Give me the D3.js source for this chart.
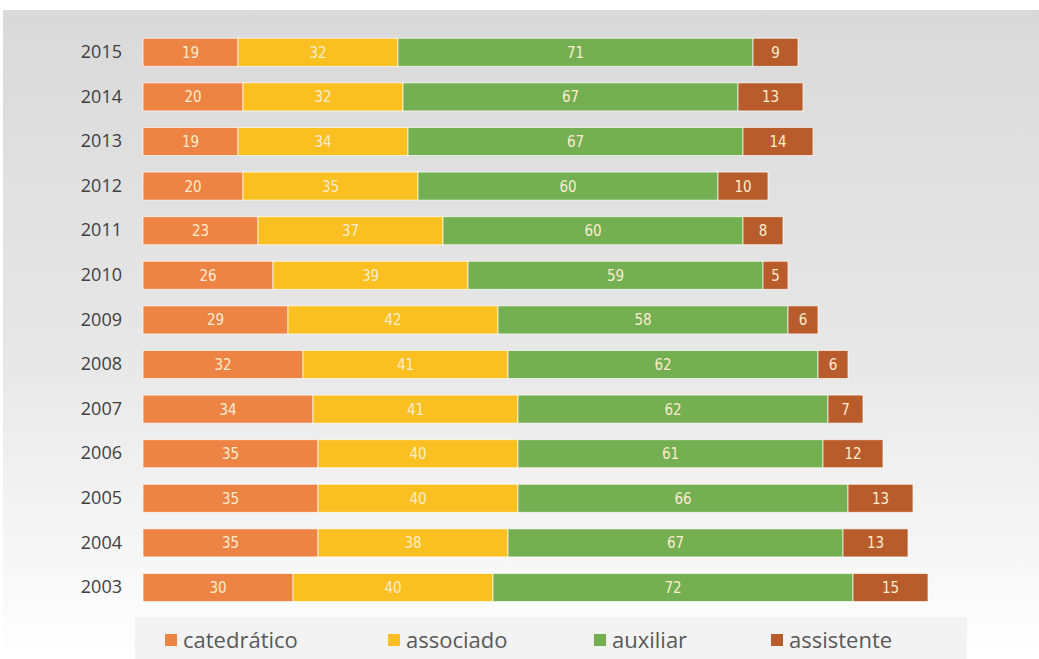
<!DOCTYPE html>
<html>
<head>
<meta charset="utf-8">
<script src="https://cdn.jsdelivr.net/npm/d3@7"></script>
<style>
  body { margin: 0; background: #fff; }
  svg { display: block; }
</style>
</head>
<body>
<div id="chart"></div>
<script>
// data, top row first
var years = ["2015", "2014", "2013", "2012", "2011", "2010", "2009", "2008", "2007", "2006", "2005", "2004", "2003"];
var catedratico = [19, 20, 19, 20, 23, 26, 29, 32, 34, 35, 35, 35, 30];
var associado   = [32, 32, 34, 35, 37, 39, 42, 41, 41, 40, 40, 38, 40];
var auxiliar    = [71, 67, 67, 60, 60, 59, 58, 62, 62, 61, 66, 67, 72];
var assistente  = [9, 13, 14, 10, 8, 5, 6, 6, 7, 12, 13, 13, 15];
var seriesNames = ["catedrático", "associado", "auxiliar", "assistente"];
var colors = ["#EE8444", "#FAC021", "#74B052", "#B95C2B"];

var svgWidth = 1039, svgHeight = 659;

var svg = d3.select("#chart").append("svg")
  .attr("width", svgWidth)
  .attr("height", svgHeight);

// background gradient: grey at the top fading to white
var defs = svg.append("defs");
var grad = defs.append("linearGradient")
  .attr("id", "bg").attr("x1", 0).attr("y1", 0).attr("x2", 0).attr("y2", 1);
grad.append("stop").attr("offset", "0%").attr("stop-color", "#d9d9d9");
grad.append("stop").attr("offset", "55%").attr("stop-color", "#e8e8e8");
grad.append("stop").attr("offset", "100%").attr("stop-color", "#ffffff");

svg.append("rect")
  .attr("x", 3).attr("y", 10)
  .attr("width", svgWidth - 3).attr("height", svgHeight - 10)
  .attr("fill", "url(#bg)");

// legend band
svg.append("rect")
  .attr("x", 135).attr("y", 617)
  .attr("width", 832).attr("height", 42)
  .attr("fill", "#f3f3f3");

// build the stacked table
var table = years.map(function(y, i) {
  return {
    year: y,
    "catedrático": catedratico[i],
    "associado": associado[i],
    "auxiliar": auxiliar[i],
    "assistente": assistente[i]
  };
});

var stack = d3.stack().keys(seriesNames);
var stacked = stack(table);

var x = d3.scaleLinear().domain([0, 157]).range([143, 143 + 157 * 5]);
var y = d3.scaleBand().domain(years).range([30, 30 + 13 * 44.6]).paddingInner(0.37).paddingOuter(0.185);

// year labels
var yAxis = d3.axisLeft(y).tickSize(0).tickPadding(0);
var axisG = svg.append("g")
  .attr("transform", "translate(122,0)")
  .call(yAxis);
axisG.select(".domain").remove();
axisG.selectAll("text")
  .attr("font-family", "'Open Sans', sans-serif")
  .attr("font-size", 18)
  .attr("fill", "#404040");

// bars
var groups = svg.selectAll(".serie")
  .data(stacked)
  .enter().append("g")
  .attr("class", "serie")
  .attr("fill", function(d, i) { return colors[i]; });

groups.selectAll("rect")
  .data(function(d) { return d; })
  .enter().append("rect")
  .attr("x", function(d) { return x(d[0]); })
  .attr("y", function(d) { return y(d.data.year); })
  .attr("width", function(d) { return x(d[1]) - x(d[0]); })
  .attr("height", y.bandwidth())
  .attr("stroke", "#ffffff")
  .attr("stroke-opacity", 0.7)
  .attr("stroke-width", 1);

// value labels
groups.selectAll("text")
  .data(function(d) { return d; })
  .enter().append("text")
  .attr("x", function(d) { return (x(d[0]) + x(d[1])) / 2; })
  .attr("y", function(d) { return y(d.data.year) + y.bandwidth() / 2; })
  .attr("dy", "0.36em")
  .attr("text-anchor", "middle")
  .attr("font-family", "'DejaVu Sans Condensed', 'DejaVu Sans', sans-serif")
  .attr("font-stretch", "condensed")
  .attr("font-size", 15)
  .attr("fill", "#fdeccf")
  .text(function(d) { return d[1] - d[0]; });

// legend
var legendX = [165, 388, 594, 771];
var legend = svg.selectAll(".legend")
  .data(seriesNames)
  .enter().append("g")
  .attr("class", "legend")
  .attr("transform", function(d, i) { return "translate(" + legendX[i] + ",640)"; });

legend.append("rect")
  .attr("x", 0).attr("y", -6)
  .attr("width", 12).attr("height", 12)
  .attr("fill", function(d, i) { return colors[i]; });

legend.append("text")
  .attr("x", 18)
  .attr("dy", "0.35em")
  .attr("font-family", "'Open Sans', sans-serif")
  .attr("font-size", 22)
  .attr("fill", "#595959")
  .text(function(d) { return d; });
</script>
</body>
</html>
